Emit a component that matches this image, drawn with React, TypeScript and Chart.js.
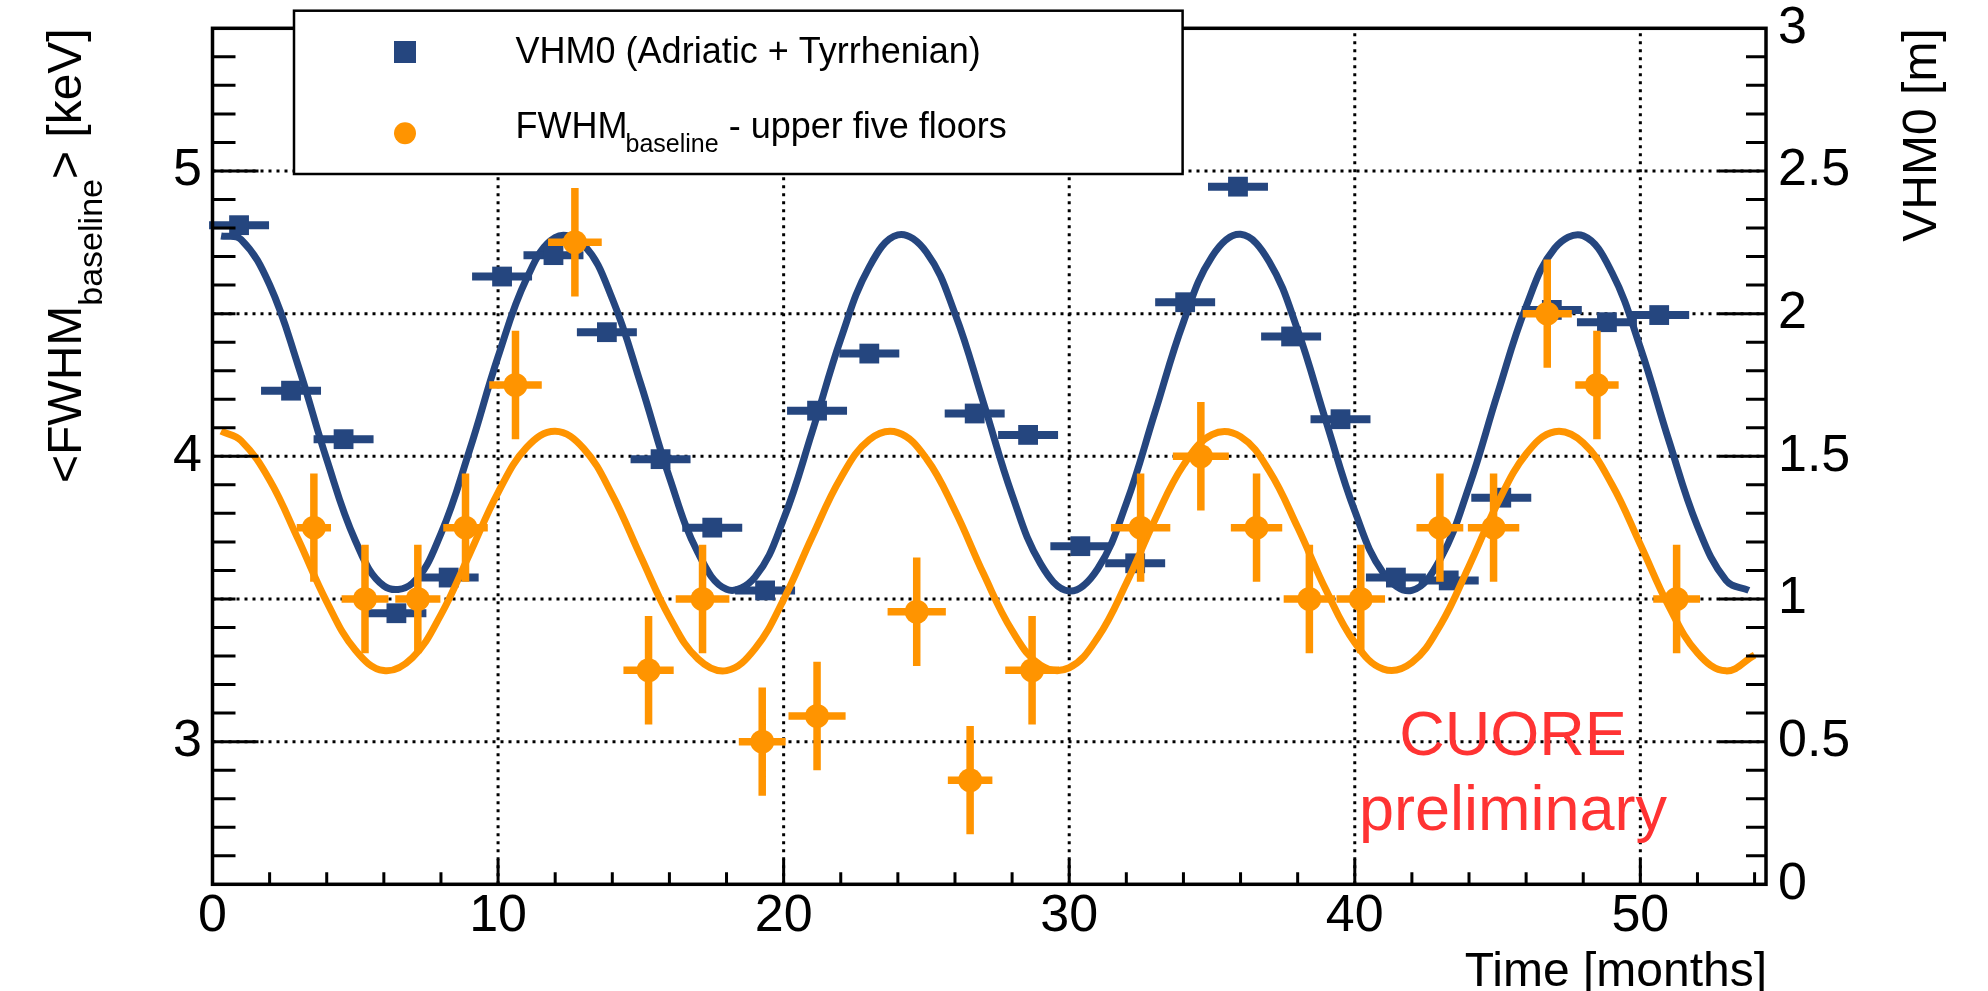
import React, { useEffect, useRef } from 'react';
import { Chart, registerables } from 'chart.js';

Chart.register(...registerables);

const W = 1988;
const H = 991;
const FONT = "'Liberation Sans', Arial, Helvetica, sans-serif";
const BLUE = '#25467f';
const ORANGE = '#ff9400';
const RED = '#ff3333';

// ---- axis ticks / grid ----
const monthTicks = [0, 10, 20, 30, 40, 50];
const fwhmTicks = [3, 4, 5];
const vhm0Ticks = [0, 0.5, 1, 1.5, 2, 2.5, 3];
const gridMonths = [10, 20, 30, 40, 50];
const gridVHM0 = [0.5, 1, 1.5, 2, 2.5];

// ---- VHM0 (right axis, metres) ----
const blueMonths = [0.93, 2.75, 4.59, 6.44, 8.27, 10.14, 11.94, 13.81, 15.69, 17.5, 19.35, 21.17, 23.0, 26.69, 28.56, 30.39, 32.31, 34.06, 35.91, 37.77, 39.5, 41.44, 43.29, 45.13, 46.9, 48.83, 50.66];
const blueVHM0 = [2.31, 1.73, 1.56, 0.95, 1.075, 2.13, 2.205, 1.935, 1.49, 1.25, 1.03, 1.66, 1.86, 1.65, 1.575, 1.185, 1.125, 2.04, 2.445, 1.92, 1.63, 1.075, 1.065, 1.355, 2.013, 1.97, 1.995];
const blueMonthErr = [1.05, 1.05, 1.05, 1.05, 1.05, 1.05, 1.05, 1.05, 1.05, 1.05, 1.05, 1.05, 1.05, 1.05, 1.05, 1.05, 1.05, 1.05, 1.05, 1.05, 1.05, 1.05, 1.05, 1.05, 1.05, 1.05, 1.05];

// ---- VHM0 fit curve ----
const blueFitMonths = [0.3, 1, 2, 3, 4, 5, 6, 7, 8, 9, 10, 11, 12, 13, 14, 15, 16, 17, 18, 19, 20, 21, 22, 23, 24, 25, 26, 27, 28, 29, 30, 31, 32, 33, 34, 35, 36, 37, 38, 39, 40, 41, 42, 43, 44, 45, 46, 47, 48, 49, 50, 51, 52, 53, 53.8];
const blueFitVHM0 = [2.272, 2.26, 2.101, 1.818, 1.489, 1.205, 1.046, 1.055, 1.229, 1.521, 1.849, 2.123, 2.267, 2.241, 2.052, 1.753, 1.426, 1.162, 1.034, 1.077, 1.28, 1.586, 1.911, 2.164, 2.276, 2.215, 2.0, 1.687, 1.365, 1.123, 1.028, 1.106, 1.335, 1.653, 1.97, 2.2, 2.278, 2.183, 1.942, 1.62, 1.308, 1.091, 1.03, 1.141, 1.394, 1.719, 2.025, 2.229, 2.273, 2.145, 1.881, 1.555, 1.255, 1.065, 1.03];

// ---- FWHM baseline (left axis, keV) ----
const orangeMonths = [3.55, 5.34, 7.19, 8.86, 10.61, 12.69, 15.27, 17.16, 19.25, 21.17, 24.66, 26.53, 28.7, 32.5, 34.61, 36.56, 38.41, 40.21, 42.98, 44.86, 46.74, 48.48, 51.27];
const orangeFWHM = [3.75, 3.5, 3.5, 3.75, 4.25, 4.75, 3.25, 3.5, 3.0, 3.09, 3.455, 2.865, 3.25, 3.75, 4.0, 3.75, 3.5, 3.5, 3.75, 3.75, 4.5, 4.25, 3.5];
const orangeMonthErr = [0.6, 0.82, 0.79, 0.78, 0.92, 0.94, 0.88, 0.94, 0.82, 1.0, 1.02, 0.78, 0.94, 1.04, 0.98, 0.9, 0.9, 0.85, 0.82, 0.9, 0.86, 0.76, 0.82];
const orangeFWHMErr = [0.19, 0.19, 0.19, 0.19, 0.19, 0.19, 0.19, 0.19, 0.19, 0.19, 0.19, 0.19, 0.19, 0.19, 0.19, 0.19, 0.19, 0.19, 0.19, 0.19, 0.19, 0.19, 0.19];

// ---- FWHM fit curve ----
const orangeFitMonths = [0.3, 1, 2, 3, 4, 5, 6, 7, 8, 9, 10, 11, 12, 13, 14, 15, 16, 17, 18, 19, 20, 21, 22, 23, 24, 25, 26, 27, 28, 29, 30, 31, 32, 33, 34, 35, 36, 37, 38, 39, 40, 41, 42, 43, 44, 45, 46, 47, 48, 49, 50, 51, 52, 53, 54];
const orangeFitFWHM = [4.088, 4.055, 3.917, 3.709, 3.49, 3.321, 3.249, 3.294, 3.445, 3.657, 3.873, 4.031, 4.088, 4.027, 3.865, 3.648, 3.437, 3.29, 3.249, 3.326, 3.498, 3.718, 3.924, 4.058, 4.083, 3.992, 3.81, 3.588, 3.389, 3.268, 3.259, 3.365, 3.555, 3.777, 3.969, 4.076, 4.069, 3.95, 3.751, 3.53, 3.347, 3.254, 3.277, 3.409, 3.615, 3.835, 4.008, 4.086, 4.047, 3.902, 3.691, 3.474, 3.311, 3.248, 3.303];

const decorPlugin = {
  id: 'decor',
  beforeDatasetsDraw(chart: any) {
    const { ctx, chartArea: a } = chart;
    const x = chart.scales.x;
    const y1 = chart.scales.y1;
    ctx.save();
    ctx.strokeStyle = '#000';
    ctx.lineWidth = 3;
    ctx.setLineDash([3, 5]);
    ctx.beginPath();
    for (const v of gridMonths) {
      const px = x.getPixelForValue(v);
      ctx.moveTo(px, a.bottom);
      ctx.lineTo(px, a.top);
    }
    for (const v of gridVHM0) {
      const py = y1.getPixelForValue(v);
      ctx.moveTo(a.left, py);
      ctx.lineTo(a.right, py);
    }
    ctx.stroke();
    ctx.restore();
  },
  beforeDatasetDraw(chart: any, args: any) {
    const { ctx } = chart;
    const x = chart.scales.x;
    if (args.index === 1) {
      const y1 = chart.scales.y1;
      ctx.save();
      ctx.strokeStyle = BLUE;
      ctx.lineWidth = 8;
      ctx.beginPath();
      blueMonths.forEach((m, i) => {
        const py = y1.getPixelForValue(blueVHM0[i]);
        ctx.moveTo(x.getPixelForValue(m - blueMonthErr[i]), py);
        ctx.lineTo(x.getPixelForValue(m + blueMonthErr[i]), py);
      });
      ctx.stroke();
      ctx.restore();
    }
    if (args.index === 3) {
      const y = chart.scales.y;
      ctx.save();
      ctx.strokeStyle = ORANGE;
      ctx.lineWidth = 7.5;
      ctx.beginPath();
      orangeMonths.forEach((m, i) => {
        const px = x.getPixelForValue(m);
        const py = y.getPixelForValue(orangeFWHM[i]);
        ctx.moveTo(x.getPixelForValue(m - orangeMonthErr[i]), py);
        ctx.lineTo(x.getPixelForValue(m + orangeMonthErr[i]), py);
        ctx.moveTo(px, y.getPixelForValue(orangeFWHM[i] - orangeFWHMErr[i]));
        ctx.lineTo(px, y.getPixelForValue(orangeFWHM[i] + orangeFWHMErr[i]));
      });
      ctx.stroke();
      ctx.restore();
    }
  },
  afterDraw(chart: any) {
    const { ctx, chartArea: a } = chart;
    const x = chart.scales.x;
    const y = chart.scales.y;
    const y1 = chart.scales.y1;
    ctx.save();
    // ticks (inside)
    ctx.strokeStyle = '#000';
    ctx.lineWidth = 3;
    ctx.beginPath();
    for (let k = 26; k <= 54; k++) {
      const py = y.getPixelForValue(k / 10);
      const len = k % 10 === 0 ? 46 : 23;
      ctx.moveTo(a.left, py);
      ctx.lineTo(a.left + len, py);
    }
    for (let k = 1; k <= 29; k++) {
      const py = y1.getPixelForValue(k / 10);
      const len = k % 5 === 0 ? 47 : 20;
      ctx.moveTo(a.right, py);
      ctx.lineTo(a.right - len, py);
    }
    for (let m = 2; m <= 54; m += 2) {
      const px = x.getPixelForValue(m);
      const len = m % 10 === 0 ? 25 : 12;
      ctx.moveTo(px, a.bottom);
      ctx.lineTo(px, a.bottom - len);
    }
    ctx.stroke();
    // frame
    ctx.lineWidth = 3.5;
    ctx.strokeRect(a.left, a.top, a.right - a.left, a.bottom - a.top);

    // axis titles
    ctx.fillStyle = '#000';
    ctx.textBaseline = 'alphabetic';
    const big = `48px ${FONT}`;
    const sub = `34px ${FONT}`;
    // left title: <FWHM_baseline> [keV]
    ctx.save();
    ctx.translate(80.5, a.top);
    ctx.rotate(-Math.PI / 2);
    ctx.font = big;
    const w1 = ctx.measureText('<FWHM').width;
    const w3 = ctx.measureText('> [keV]').width;
    ctx.font = sub;
    const w2 = ctx.measureText('baseline').width;
    let sx = -(w1 + w2 + w3);
    ctx.textAlign = 'left';
    ctx.font = big;
    ctx.fillText('<FWHM', sx, 0);
    sx += w1;
    ctx.font = sub;
    ctx.fillText('baseline', sx, 21.5);
    sx += w2;
    ctx.font = big;
    ctx.fillText('> [keV]', sx, 0);
    ctx.restore();
    // right title
    ctx.save();
    ctx.translate(1936, a.top);
    ctx.rotate(-Math.PI / 2);
    ctx.font = big;
    ctx.textAlign = 'right';
    ctx.fillText('VHM0 [m]', 0, 0);
    ctx.restore();
    // x title
    ctx.font = big;
    ctx.textAlign = 'right';
    ctx.fillText('Time [months]', a.right + 1, 986);

    // CUORE preliminary
    ctx.fillStyle = RED;
    ctx.textAlign = 'center';
    ctx.font = `63px ${FONT}`;
    ctx.fillText('CUORE', 1513, 755);
    ctx.fillText('preliminary', 1513, 830);

    // legend
    ctx.fillStyle = '#fff';
    ctx.fillRect(294, 10.7, 888.6, 163.3);
    ctx.strokeStyle = '#000';
    ctx.lineWidth = 2.5;
    ctx.strokeRect(294, 10.7, 888.6, 163.3);
    ctx.fillStyle = BLUE;
    ctx.fillRect(394, 41, 22, 22);
    ctx.fillStyle = ORANGE;
    ctx.beginPath();
    ctx.arc(405, 133.3, 11, 0, Math.PI * 2);
    ctx.fill();
    ctx.fillStyle = '#000';
    ctx.textAlign = 'left';
    ctx.font = `36px ${FONT}`;
    ctx.fillText('VHM0 (Adriatic + Tyrrhenian)', 515.6, 63.3);
    ctx.fillText('FWHM', 515.6, 138.3);
    const fw = ctx.measureText('FWHM').width;
    ctx.font = `25px ${FONT}`;
    ctx.fillText('baseline', 515.6 + fw - 2, 152);
    const bw = ctx.measureText('baseline').width;
    ctx.font = `36px ${FONT}`;
    ctx.fillText(' - upper five floors', 515.6 + fw - 2 + bw, 138.3);
    ctx.restore();
  },
};

const tickFont = { family: FONT, size: 52, lineHeight: 1.0 };

export default function App() {
  const ref = useRef<HTMLCanvasElement>(null);
  useEffect(() => {
    document.body.style.margin = '0';
    document.body.style.overflow = 'hidden';
    const chart = new Chart(ref.current as HTMLCanvasElement, {
      type: 'scatter',
      data: {
        datasets: [
          {
            label: 'VHM0 fit',
            data: blueFitMonths.map((m, i) => ({ x: m, y: blueFitVHM0[i] })),
            yAxisID: 'y1',
            showLine: true,
            borderColor: BLUE,
            borderWidth: 7,
            pointRadius: 0,
            tension: 0.4,
            order: 4,
            clip: false,
          },
          {
            label: 'VHM0 (Adriatic + Tyrrhenian)',
            data: blueMonths.map((m, i) => ({ x: m, y: blueVHM0[i] })),
            yAxisID: 'y1',
            pointStyle: 'rect',
            pointRadius: 14,
            backgroundColor: BLUE,
            borderWidth: 0,
            order: 3,
            clip: false,
          },
          {
            label: 'FWHM fit',
            data: orangeFitMonths.map((m, i) => ({ x: m, y: orangeFitFWHM[i] })),
            yAxisID: 'y',
            showLine: true,
            borderColor: ORANGE,
            borderWidth: 7,
            pointRadius: 0,
            tension: 0.4,
            order: 2,
            clip: false,
          },
          {
            label: 'FWHM baseline - upper five floors',
            data: orangeMonths.map((m, i) => ({ x: m, y: orangeFWHM[i] })),
            yAxisID: 'y',
            pointStyle: 'circle',
            pointRadius: 12,
            backgroundColor: ORANGE,
            borderWidth: 0,
            order: 1,
            clip: false,
          },
        ],
      } as any,
      options: {
        responsive: false,
        animation: false,
        events: [],
        layout: { padding: { top: 28.3, left: 0, right: 0, bottom: 0 } },
        plugins: { legend: { display: false }, tooltip: { enabled: false } },
        scales: {
          x: {
            type: 'linear',
            position: 'bottom',
            min: 0,
            max: 54.4,
            grid: { display: false, drawTicks: false },
            border: { display: false },
            ticks: {
              font: tickFont,
              color: '#000',
              padding: 6,
              maxRotation: 0,
              autoSkip: false,
              callback: (v: any) => String(v),
            },
            afterBuildTicks: (s: any) => {
              s.ticks = monthTicks.map((v) => ({ value: v }));
            },
            afterFit: (s: any) => {
              s.height = H - 884.3;
              s.paddingLeft = 0;
              s.paddingRight = 0;
            },
          },
          y: {
            type: 'linear',
            position: 'left',
            min: 2.5,
            max: 5.5,
            grid: { display: false, drawTicks: false },
            border: { display: false },
            ticks: {
              font: tickFont,
              color: '#000',
              padding: 10.7,
              autoSkip: false,
              callback: (v: any) => String(v),
            },
            afterBuildTicks: (s: any) => {
              s.ticks = fwhmTicks.map((v) => ({ value: v }));
            },
            afterFit: (s: any) => {
              s.width = 212.5;
              s.paddingTop = 0;
              s.paddingBottom = 0;
            },
          },
          y1: {
            type: 'linear',
            position: 'right',
            min: 0,
            max: 3,
            grid: { display: false, drawTicks: false },
            border: { display: false },
            ticks: {
              font: tickFont,
              color: '#000',
              padding: 12,
              autoSkip: false,
              callback: (v: any) => String(v),
            },
            afterBuildTicks: (s: any) => {
              s.ticks = vhm0Ticks.map((v) => ({ value: v }));
            },
            afterFit: (s: any) => {
              s.width = W - 1766;
              s.paddingTop = 0;
              s.paddingBottom = 0;
            },
          },
        },
      } as any,
      plugins: [decorPlugin],
    });
    return () => chart.destroy();
  }, []);
  return (
    <div style={{ width: W, height: H, background: '#fff' }}>
      <canvas ref={ref} width={W} height={H} style={{ display: 'block' }} />
    </div>
  );
}
